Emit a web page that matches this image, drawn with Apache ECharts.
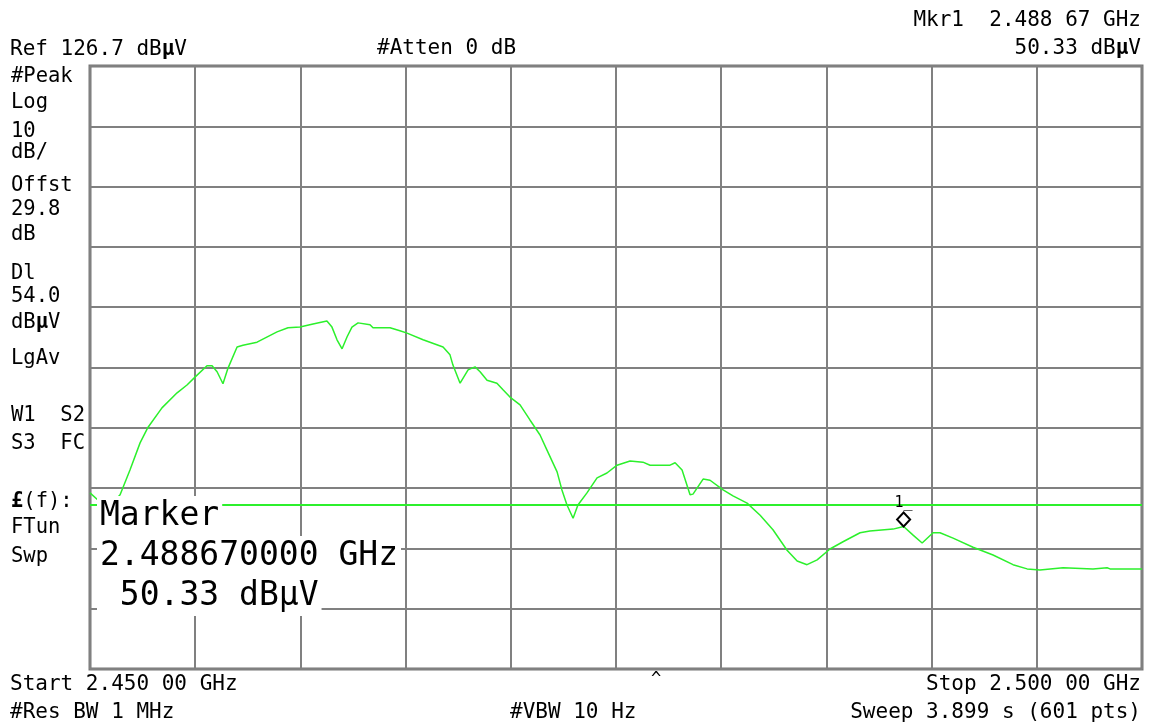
<!DOCTYPE html>
<html>
<head>
<meta charset="utf-8">
<script src="https://cdn.jsdelivr.net/npm/echarts@6/dist/echarts.min.js"></script>
<style>
  html, body { margin: 0; padding: 0; background: #fff; }
  #main { width: 1149px; height: 726px; }
</style>
</head>
<body>
<div id="main"></div>
<script>
// analyzer settings
const refLevel = 126.7;      // dBuV, top of screen
const dbPerDiv = 10;
const displayLine = 54.0;    // dBuV
const startMHz = 2450;
const stopMHz = 2500;
const spanDivMHz = 5;

// trace
const freqGHz = [
  2.45000, 2.45048, 2.45086, 2.45143, 2.45190, 2.45238, 2.45276, 2.45342, 2.45414, 2.45461,
  2.45499, 2.45556, 2.45580, 2.45604, 2.45632, 2.45656, 2.45699, 2.45727, 2.45794, 2.45889,
  2.45941, 2.45998, 2.46060, 2.46126, 2.46150, 2.46174, 2.46198, 2.46222, 2.46245, 2.46274,
  2.46331, 2.46345, 2.46426, 2.46473, 2.46507, 2.46583, 2.46678, 2.46711, 2.46725, 2.46759,
  2.46797, 2.46830, 2.46854, 2.46887, 2.46934, 2.46963, 2.46996, 2.47044, 2.47091, 2.47139,
  2.47172, 2.47220, 2.47243, 2.47267, 2.47296, 2.47319, 2.47362, 2.47410, 2.47457, 2.47505,
  2.47567, 2.47628, 2.47662, 2.47757, 2.47781, 2.47814, 2.47852, 2.47866, 2.47914, 2.47947,
  2.48009, 2.48056, 2.48123, 2.48185, 2.48246, 2.48313, 2.48361, 2.48408, 2.48456, 2.48517,
  2.48579, 2.48660, 2.48707, 2.48817, 2.48867, 2.48912, 2.48955, 2.49007, 2.49040, 2.49102,
  2.49197, 2.49292, 2.49387, 2.49454, 2.49515, 2.49625, 2.49767, 2.49834, 2.49848, 2.50000
];
const levelDbuv = [
  55.9, 54.4, 53.4, 55.6, 59.7, 64.2, 66.8, 70.0, 72.5, 73.8,
  75.1, 77.0, 77.0, 76.0, 74.0, 76.6, 80.1, 80.4, 80.9, 82.6,
  83.3, 83.4, 83.9, 84.4, 83.4, 81.3, 79.8, 81.8, 83.4, 84.1,
  83.8, 83.3, 83.3, 82.8, 82.4, 81.3, 80.1, 78.8, 77.1, 74.1,
  76.3, 76.8, 76.0, 74.6, 74.1, 73.0, 71.8, 70.5, 68.0, 65.5,
  63.0, 59.4, 56.4, 53.9, 51.7, 53.9, 55.9, 58.4, 59.2, 60.5,
  61.2, 61.0, 60.5, 60.5, 60.9, 59.7, 55.6, 55.7, 58.2, 58.0,
  56.4, 55.4, 54.2, 52.2, 49.8, 46.4, 44.6, 44.0, 44.8, 46.6,
  47.8, 49.3, 49.6, 49.9, 50.33, 48.9, 47.6, 49.3, 49.3, 48.4,
  46.9, 45.6, 44.0, 43.3, 43.1, 43.5, 43.3, 43.5, 43.3, 43.3
];

const mkrFreqGHz = 2.48867;
const mkrLevel = 50.33;

const MONO = '"DejaVu Sans Mono", "Liberation Mono", monospace';
const GREEN = '#2cf02c';
const GRIDC = '#808080';

// plot y as dB below the reference level so the grid starts at the top line
const toY = (v) => v - refLevel;
const traceData = freqGHz.map((f, i) => [f * 1000, toY(levelDbuv[i])]);

function txt(text, x, y, size, align, extra) {
  return {
    type: 'text',
    x: x,
    y: y,
    z: 100,
    style: Object.assign({
      text: text,
      font: size + 'px ' + MONO,
      fill: '#000',
      align: align || 'left',
      verticalAlign: 'middle',
      rich: {
        b: { font: 'bold ' + size + 'px ' + MONO, fill: '#000' }
      }
    }, extra || {})
  };
}

const sideLabels = [
  ['#Peak', 77], ['Log', 103], ['10', 132], ['dB/', 153], ['Offst', 186],
  ['29.8', 210], ['dB', 235], ['Dl', 274], ['54.0', 297], ['dB{b|μ}V', 323],
  ['LgAv', 359], ['W1  S2', 416], ['S3  FC', 444], ['{b|£}(f):', 502],
  ['FTun', 528], ['Swp', 557]
];

const boxStyle = { backgroundColor: '#fff', padding: [0, 3], lineHeight: 40 };

const graphics = [
  txt('Ref 126.7 dB{b|μ}V', 10, 50, 21),
  txt('#Atten 0 dB', 377, 49, 21),
  txt('Mkr1  2.488 67 GHz', 1141, 21, 21, 'right'),
  txt('50.33 dB{b|μ}V', 1141, 49, 21, 'right'),
  txt('Start 2.450 00 GHz', 10, 685, 21),
  txt('^', 656, 680, 17, 'center'),
  txt('Stop 2.500 00 GHz', 1141, 685, 21, 'right'),
  txt('#Res BW 1 MHz', 10, 713, 21),
  txt('#VBW 10 Hz', 510, 713, 21),
  txt('Sweep 3.899 s (601 pts)', 1141, 713, 21, 'right'),
  txt('Marker', 97, 516, 33, 'left', boxStyle),
  txt('2.488670000 GHz', 97, 556, 33, 'left', boxStyle),
  txt(' 50.33 dBμV', 97, 596, 33, 'left', boxStyle)
];
sideLabels.forEach(([t, y]) => graphics.push(txt(t, 11, y, 20.5)));

const myChart = echarts.init(document.getElementById('main'));

const option = {
  animation: false,
  backgroundColor: '#fff',
  grid: {
    left: 90,
    top: 66,
    right: 7,
    bottom: 57,
    show: true,
    borderWidth: 3,
    borderColor: '#777',
    outerBoundsMode: 'none'
  },
  xAxis: {
    type: 'value',
    min: startMHz,
    max: stopMHz,
    interval: spanDivMHz,
    axisLabel: { show: false },
    axisLine: { show: false },
    axisTick: { show: false },
    splitLine: { show: true, lineStyle: { color: GRIDC, width: 2 } }
  },
  yAxis: {
    type: 'value',
    min: -10 * dbPerDiv,
    max: 0,
    interval: dbPerDiv,
    axisLabel: { show: false },
    axisLine: { show: false },
    axisTick: { show: false },
    splitLine: { show: true, lineStyle: { color: GRIDC, width: 2 } }
  },
  series: [
    {
      type: 'line',
      data: traceData,
      showSymbol: false,
      smooth: false,
      lineStyle: { color: GREEN, width: 1.5 },
      itemStyle: { color: GREEN },
      markLine: {
        silent: true,
        symbol: 'none',
        label: { show: false },
        lineStyle: { color: GREEN, width: 2, type: 'solid' },
        data: [{ yAxis: toY(displayLine) }]
      },
      markPoint: {
        silent: true,
        symbol: 'diamond',
        symbolSize: [13, 14],
        symbolOffset: [0, -7],
        itemStyle: { color: '#fff', borderColor: '#000', borderWidth: 2 },
        label: {
          show: true,
          position: 'top',
          distance: 1,
          formatter: '1\u0332',
          color: '#000',
          fontFamily: MONO,
          fontSize: 15
        },
        data: [{ coord: [mkrFreqGHz * 1000, toY(mkrLevel)] }]
      }
    }
  ],
  graphic: graphics
};

option && myChart.setOption(option);
</script>
</body>
</html>
